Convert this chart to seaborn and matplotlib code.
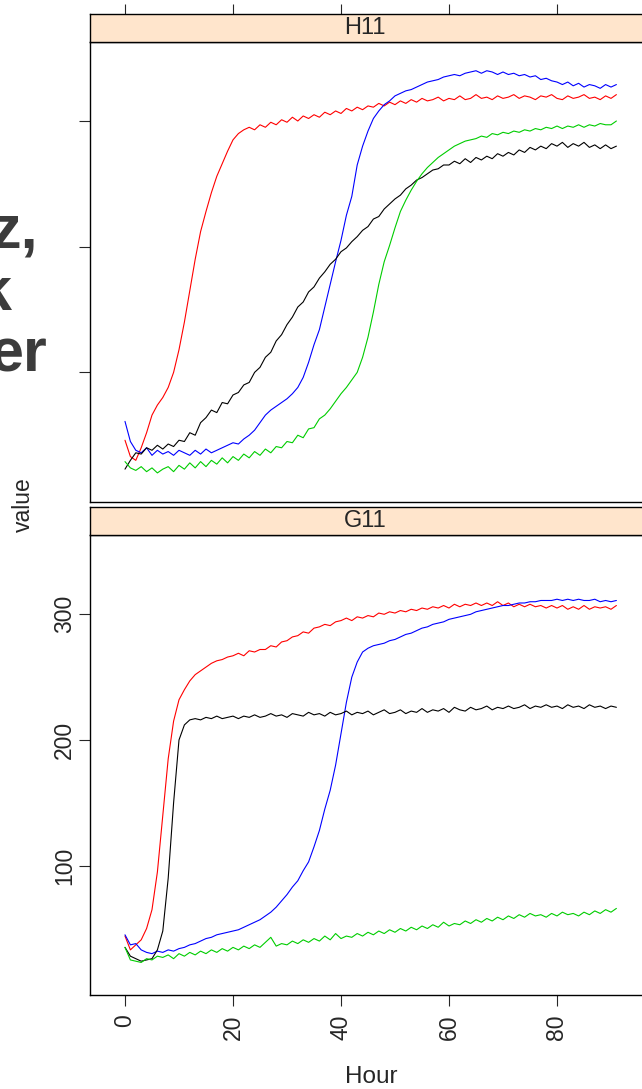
import numpy as np
import pandas as pd
import matplotlib
matplotlib.use("Agg")
import matplotlib.pyplot as plt
import seaborn as sns

# ---------------- data ----------------
hours = list(range(0, 92))

panels = ["H11", "G11"]
series_names = ["red", "blue", "black", "green"]
series_colors = {"red": "#FF0000", "blue": "#0000FF", "black": "#000000", "green": "#00CD00"}

h11_red = [46, 33, 30, 40, 52, 66, 74, 80, 88, 100,
           118, 140, 165, 190, 212, 228, 243, 256, 266, 276,
           285, 290, 293, 295, 293, 297, 295, 299, 297, 301,
           299, 303, 300, 304, 302, 305, 303, 307, 305, 308,
           306, 310, 308, 311, 309, 312, 311, 314, 312, 315,
           313, 316, 314, 317, 315, 318, 316, 317, 319, 316,
           318, 317, 320, 317, 318, 321, 318, 319, 317, 320,
           318, 319, 321, 318, 320, 319, 317, 320, 319, 321,
           318, 317, 320, 318, 319, 321, 318, 319, 317, 320,
           318, 321]
h11_blue = [61, 45, 38, 36, 40, 34, 38, 35, 37, 34,
            38, 36, 34, 38, 35, 39, 36, 38, 40, 42,
            44, 43, 47, 50, 54, 60, 66, 70, 73, 76,
            79, 83, 88, 96, 108, 122, 134, 152, 170, 188,
            205, 225, 240, 265, 280, 292, 302, 308, 313, 316,
            320, 322, 324, 325, 327, 329, 331, 332, 333, 335,
            336, 337, 336, 338, 339, 340, 338, 340, 339, 337,
            339, 337, 338, 336, 337, 335, 336, 333, 334, 332,
            331, 329, 331, 328, 330, 327, 329, 328, 326, 329,
            327, 329]
h11_black = [23, 30, 36, 35, 40, 38, 42, 39, 43, 41,
             46, 45, 52, 50, 60, 64, 70, 68, 76, 75,
             82, 84, 90, 92, 100, 104, 112, 116, 125, 130,
             138, 144, 152, 156, 164, 168, 175, 180, 186, 190,
             196, 199, 204, 208, 213, 216, 222, 224, 230, 234,
             238, 241, 246, 249, 253, 255, 258, 261, 262, 265,
             265, 268, 266, 270, 267, 271, 269, 272, 270, 274,
             272, 275, 273, 277, 275, 279, 277, 280, 278, 282,
             280, 283, 279, 282, 280, 283, 279, 281, 278, 281,
             278, 280]
h11_green = [29, 24, 22, 25, 21, 24, 20, 23, 25, 21,
             26, 23, 28, 24, 29, 25, 30, 27, 32, 28,
             33, 30, 35, 32, 37, 34, 39, 36, 41, 40,
             45, 44, 50, 48, 55, 56, 63, 66, 71, 77,
             83, 88, 94, 100, 112, 128, 148, 170, 188, 201,
             215, 228, 237, 245, 252, 258, 263, 267, 271, 274,
             277, 280, 282, 284, 285, 286, 288, 287, 290, 289,
             291, 290, 292, 291, 293, 292, 294, 293, 295, 294,
             296, 294, 296, 295, 297, 295, 297, 296, 298, 297,
             297, 300]

g11_red = [44, 33, 37, 41, 50, 65, 95, 140, 185, 215,
           232, 240, 247, 252, 255, 258, 261, 263, 264, 266,
           267, 269, 267, 271, 270, 272, 272, 275, 274, 278,
           279, 282, 283, 286, 285, 289, 290, 292, 291, 294,
           295, 297, 295, 298, 297, 299, 298, 301, 300, 302,
           301, 303, 302, 304, 303, 305, 304, 306, 305, 307,
           305, 308, 306, 308, 307, 309, 307, 309, 307, 310,
           307, 309, 306, 308, 306, 308, 306, 307, 305, 307,
           305, 307, 304, 306, 304, 307, 304, 306, 305, 306,
           304, 307]
g11_blue = [45, 37, 38, 33, 31, 30, 32, 31, 33, 32,
            34, 35, 37, 38, 40, 42, 43, 45, 46, 47,
            48, 49, 51, 53, 55, 57, 60, 63, 67, 72,
            77, 83, 88, 96, 103, 115, 128, 145, 160, 180,
            205, 230, 250, 262, 270, 273, 275, 276, 277, 279,
            280, 282, 284, 285, 287, 289, 290, 292, 293, 294,
            296, 297, 298, 299, 300, 302, 303, 304, 305, 306,
            307, 307, 308, 309, 309, 310, 310, 311, 311, 311,
            312, 311, 312, 311, 312, 311, 311, 312, 310, 311,
            310, 311]
g11_black = [35, 28, 26, 24, 25, 26, 33, 48, 90, 150,
             200, 212, 216, 217, 216, 218, 217, 219, 217, 218,
             219, 217, 219, 218, 220, 218, 219, 221, 219, 220,
             218, 221, 220, 219, 222, 220, 221, 219, 222, 220,
             221, 223, 220, 222, 221, 223, 220, 222, 224, 221,
             222, 224, 221, 223, 222, 225, 222, 224, 223, 225,
             222, 226, 224, 223, 226, 224, 225, 227, 224, 226,
             225, 227, 225, 226, 228, 225, 227, 226, 228, 226,
             227, 225, 228, 226, 227, 225, 228, 226, 227, 225,
             227, 226]
g11_green = [35, 25, 24, 23, 26, 25, 28, 27, 29, 26,
             30, 28, 31, 29, 32, 30, 33, 31, 34, 32,
             35, 33, 36, 34, 37, 35, 39, 43, 36, 38,
             37, 40, 38, 41, 39, 42, 40, 44, 41, 46,
             42, 44, 43, 46, 44, 47, 45, 48, 46, 49,
             47, 50, 48, 51, 49, 52, 50, 53, 51, 55,
             52, 54, 53, 56, 54, 57, 55, 58, 56, 59,
             57, 60, 58, 61, 59, 62, 60, 61, 59, 62,
             60, 63, 61, 62, 60, 63, 61, 64, 62, 65,
             63, 66]

panel_data = {
    "H11": {"red": h11_red, "blue": h11_blue, "black": h11_black, "green": h11_green},
    "G11": {"red": g11_red, "blue": g11_blue, "black": g11_black, "green": g11_green},
}

x_ticks = [0, 20, 40, 60, 80]
y_ticks = [100, 200, 300]
x_label = "Hour"
y_label = "value"
overlay_bits = ["z,", "k", "er"]

# ---------------- build tidy frame ----------------
rows = []
for p in panels:
    for s in series_names:
        for h, v in zip(hours, panel_data[p][s]):
            rows.append({"panel": p, "series": s, "Hour": h, "value": v})
df = pd.DataFrame(rows)

# ---------------- figure ----------------
sns.set_style("white")
plt.rcParams["font.family"] = ["Liberation Sans", "DejaVu Sans"]

W, H = 642, 1089
fig = plt.figure(figsize=(W / 100, H / 100), dpi=100)

def fx(px):
    return px / W

def fy(py):
    return 1 - py / H

xlim = (-6.48, 97.5)
ylim = (-2.9, 363.1)
left_px, right_px = 90, 651.5

panel_geom = {
    "H11": {"strip": (13.5, 41.7), "plot": (41.7, 501.7)},
    "G11": {"strip": (507.0, 535.0), "plot": (535.0, 995.0)},
}

lw_frame = 1.0
fs_tick = 16.5
fs_lab = 17.5
fs_strip = 17

for i, p in enumerate(panels):
    g = panel_geom[p]
    pt, pb = g["plot"]
    ax = fig.add_axes([fx(left_px), fy(pb), fx(right_px - left_px), (pb - pt) / H])
    sub = df[df["panel"] == p]
    sns.lineplot(data=sub, x="Hour", y="value", hue="series", palette=series_colors,
                 hue_order=series_names, estimator=None, sort=False, legend=False,
                 linewidth=0.8, ax=ax)
    ax.set_xlim(*xlim)
    ax.set_ylim(*ylim)
    ax.set_xlabel("")
    ax.set_ylabel("")
    for sp in ax.spines.values():
        sp.set_visible(True)
        sp.set_linewidth(lw_frame)
        sp.set_color("black")
    ax.set_yticks(y_ticks)
    ax.tick_params(axis="y", which="both", left=True, right=False, direction="out",
                   length=8, width=0.8, pad=2, labelsize=fs_tick)
    if p == "G11":
        ax.set_xticks(x_ticks)
        ax.set_xticklabels([str(t) for t in x_ticks], rotation=90)
        ax.tick_params(axis="x", bottom=True, top=False, direction="out", length=8,
                       width=0.8, pad=6, labelsize=fs_tick)
        ax.set_yticklabels([str(t) for t in y_ticks], rotation=90, va="center")
    else:
        ax.set_xticks([])
        ax.set_yticklabels([])

    st, sb = g["strip"]
    sax = fig.add_axes([fx(left_px), fy(sb), fx(right_px - left_px), (sb - st) / H])
    sax.set_facecolor("#FFE5CC")
    sax.set_xlim(*xlim)
    sax.set_ylim(0, 1)
    sax.set_yticks([])
    for sp in sax.spines.values():
        sp.set_linewidth(lw_frame)
        sp.set_color("black")
    if p == "H11":
        sax.set_xticks(x_ticks)
        sax.set_xticklabels([])
        sax.tick_params(axis="x", bottom=False, top=True, direction="out", length=7.5, width=0.8)
    else:
        sax.set_xticks([])
    sax.text(fx(365 - left_px) / fx(right_px - left_px), 0.5, p, transform=sax.transAxes,
             ha="center", va="center", fontsize=fs_strip)

fig.text(fx(371), fy(1077), x_label, ha="center", va="center", fontsize=fs_lab)
fig.text(fx(23), fy(505), y_label, ha="center", va="center", rotation=90, fontsize=fs_tick)

bit_pos = [(38, 248), (12, 310), (47, 372)]
for t, (px, py) in zip(overlay_bits, bit_pos):
    fig.text(fx(px), fy(py), t, ha="right", va="baseline", fontsize=44,
             fontweight="bold", color="#3c3c3c")

fig.savefig("out.png", dpi=100)
